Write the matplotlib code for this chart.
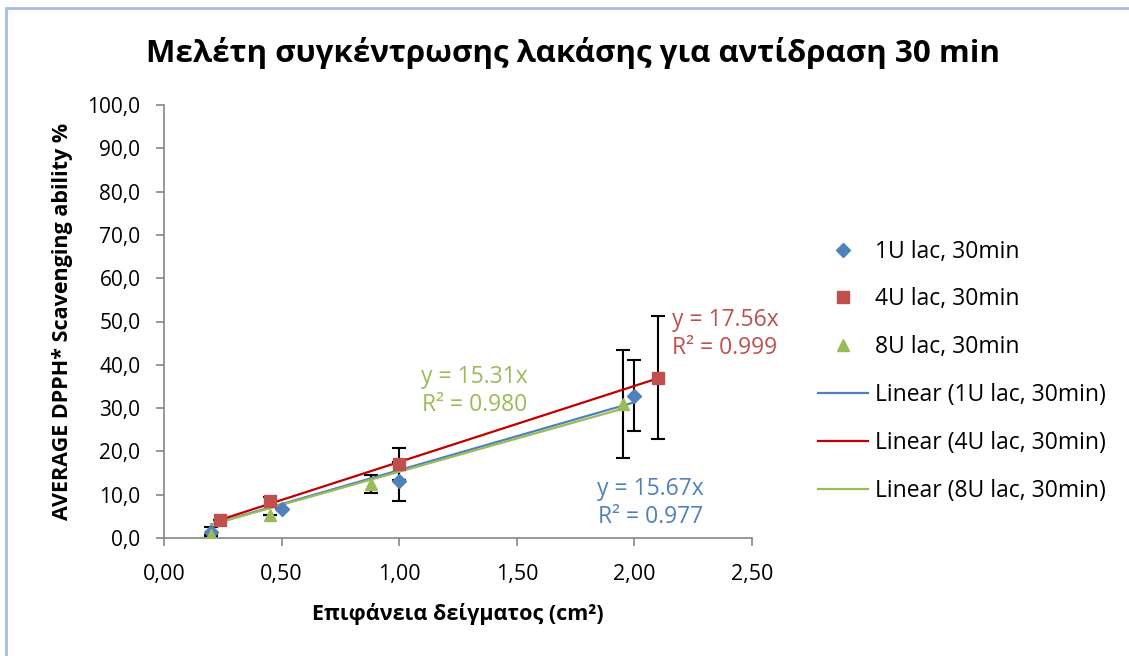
import numpy as np
import matplotlib.pyplot as plt
from matplotlib.patches import Rectangle

plt.rcParams['font.family'] = ['Open Sans', 'DejaVu Sans']

# data
series = ['1U lac, 30min', '4U lac, 30min', '8U lac, 30min']
x_1u = [0.20, 0.50, 1.00, 2.00]
y_1u = [1.5, 6.8, 13.1, 32.9]
err_1u = [1.0, 0.0, 4.5, 8.3]
x_4u = [0.24, 0.45, 1.00, 2.10]
y_4u = [4.2, 8.5, 17.2, 37.0]
err_4u = [0.0, 1.0, 3.7, 14.2]
x_8u = [0.20, 0.45, 0.88, 1.95]
y_8u = [0.8, 5.4, 12.5, 31.0]
err_8u = [0.0, 0.0, 2.0, 12.5]
slopes = [15.67, 17.56, 15.31]
r2 = [0.977, 0.999, 0.980]

marker_cols = ['#4F81BD', '#C0504D', '#9BBB59']
line_cols = ['#4F81BD', '#C00000', '#9BBB59']
markers = ['D', 's', '^']
msizes = [7, 9, 9]
# where the trendline equations sit (data coords)
eq_pos = [(2.07, 8.1), (2.385, 47.1), (1.32, 33.9)]

fig = plt.figure(figsize=(11.29, 6.56), dpi=100)
fig.patches.append(Rectangle((6/1129, -0.1), 1.2, 1 - 8/656 + 0.1, transform=fig.transFigure,
                             fill=False, edgecolor='#A7BDE5', linewidth=2))
ax = fig.add_axes([164/1129, 1 - 538/656, (752 - 164)/1129, (538 - 105)/656])

xs = [x_1u, x_4u, x_8u]
ys = [y_1u, y_4u, y_8u]
errs = [err_1u, err_4u, err_8u]

for i in range(3):
    ax.errorbar(xs[i], ys[i], yerr=errs[i], fmt='none', ecolor='black',
                elinewidth=1.5, capsize=5, capthick=1.5, zorder=2)
handles = []
for i in range(3):
    h, = ax.plot(xs[i], ys[i], linestyle='none', marker=markers[i], color=marker_cols[i],
                 markersize=msizes[i], label=series[i], zorder=4)
    handles.append(h)
for i in range(3):
    xx = np.array([min(xs[i]), max(xs[i])])
    h, = ax.plot(xx, slopes[i] * xx, color=line_cols[i], linewidth=1.6,
                 label='Linear (' + series[i] + ')', zorder=3)
    handles.append(h)

for i in range(3):
    ax.text(eq_pos[i][0], eq_pos[i][1], 'y = %.2fx\nR² = %.3f' % (slopes[i], r2[i]),
            color=marker_cols[i], fontsize=16.5, ha='center', va='center',
            linespacing=1.25, clip_on=False)

ax.set_xlim(0, 2.5)
ax.set_ylim(0, 100)
ax.set_xticks(np.arange(0, 2.51, 0.5))
ax.set_yticks(np.arange(0, 101, 10))
ax.set_xticklabels([('%.2f' % v).replace('.', ',') for v in np.arange(0, 2.51, 0.5)])
ax.set_yticklabels([('%.1f' % v).replace('.', ',') for v in np.arange(0, 101, 10)])
ax.spines['top'].set_visible(False)
ax.spines['right'].set_visible(False)
for s in ['left', 'bottom']:
    ax.spines[s].set_color('#868686')
    ax.spines[s].set_linewidth(1.2)
ax.tick_params(direction='out', length=6, width=1.2, color='#868686')
ax.tick_params(axis='y', labelsize=15, pad=11)
ax.tick_params(axis='x', labelsize=15.5, pad=13)

ax.set_xlabel('Επιφάνεια δείγματος (cm²)', fontsize=15.5, fontweight='bold', labelpad=13)
ax.set_ylabel('AVERAGE DPPH* Scavenging ability %', fontsize=15.5, fontweight='bold', labelpad=10)
fig.text(573/1129, 1 - 53/656, 'Μελέτη συγκέντρωσης λακάσης για αντίδραση 30 min',
         fontsize=22.5, fontweight='bold', ha='center', va='center')

fig.legend(handles=handles, loc='upper left', bbox_to_anchor=(797/1129, 1 - 219/656),
           frameon=False, fontsize=16.5, labelspacing=1.04, handlelength=2.2,
           handletextpad=0.3)

fig.savefig('out.png', dpi=100)
